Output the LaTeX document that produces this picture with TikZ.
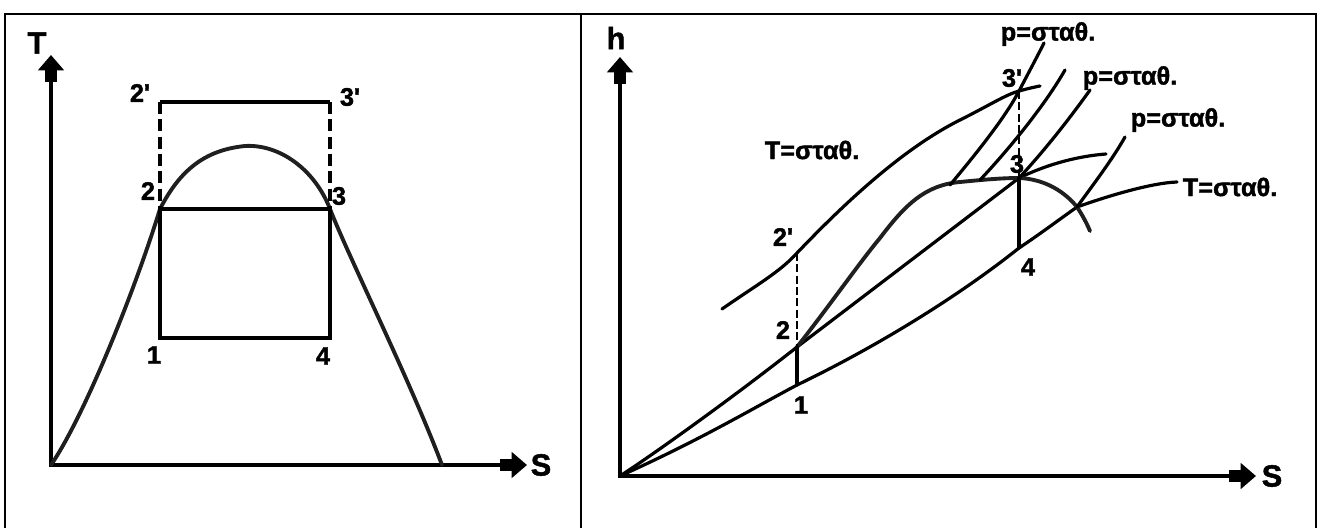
\documentclass[tikz,border=0pt]{standalone}
\usepackage{fontspec}
\setmainfont{Liberation Sans}[BoldFeatures={FakeBold=1.6}]
\usetikzlibrary{arrows.meta}
\newcommand\pr{\textquotesingle}
\tikzset{
  fatarrows/.style={{Triangle[length=11.5pt,width=19pt,sep=0pt]Rectangle[length=8.5pt,width=9.5pt,sep=0pt]}-{Rectangle[length=8.5pt,width=9.5pt,sep=0pt]Triangle[length=11.5pt,width=19pt,sep=0pt]}},
  axisline/.style={line width=3.2pt, fatarrows},
  crv/.style={line width=2.4pt, line cap=round, line join=round},
  domecrv/.style={line width=2.9pt, line cap=round, line join=round, black!88},
  boxline/.style={line width=2.4pt, line cap=square, line join=miter},
  lab/.style={font=\fontsize{19}{19}\selectfont\bfseries, inner sep=0pt},
  axlab/.style={font=\fontsize{23}{23}\selectfont\bfseries, inner sep=0pt},
  framel/.style={line width=1.9pt},
  dashL/.style={line width=2.6pt, dash pattern=on 9pt off 4pt},
  dashR/.style={line width=1pt, dash pattern=on 6pt off 2.5pt},
}
\begin{document}
\begin{tikzpicture}[x=0.75pt,y=-0.75pt]
\useasboundingbox (0,0) rectangle (1320,528);
% frame
\coordinate (fa) at (5,530); \coordinate (fb) at (5,14); \coordinate (fc) at (1316,14); \coordinate (fd) at (1316,530);
\coordinate (fm1) at (581,14); \coordinate (fm2) at (581,530);
\draw[framel] (fa) -- (fb) -- (fc) -- (fd);
\draw[framel] (fm1) -- (fm2);

% ===== left panel: T-s =====
\coordinate (O1) at (51,465);
\coordinate (Ttip) at (51,55);
\coordinate (S1tip) at (527,465);
\draw[axisline] (Ttip) -- (O1) -- (S1tip);
\node[axlab] (Tlab) at (37,43) {T};
\node[axlab] (S1lab) at (541,465) {S};

\coordinate (L2p) at (160,102); \coordinate (L3p) at (330,102);
\coordinate (L2) at (160,209);  \coordinate (L3) at (330,209);
\coordinate (L1) at (160,338);  \coordinate (L4) at (330,338);

\draw[domecrv] (O1) .. controls (85,415) and (135,290) .. (L2)
  .. controls (180,170) and (205,150) .. (245,146)
  .. controls (280,144) and (315,170) .. (L3)
  .. controls (350,260) and (410,380) .. (442,465);

\draw[boxline] (L2p) -- (L3p);
\draw[dashL] (L2p) -- (L2);
\draw[dashL] (L3p) -- (L3);
\draw[boxline] (L2) -- (L3);
\draw[boxline] (L2) -- (L1) -- (L4) -- (L3);

\node[lab] (l2p) at (140,93) {2\pr};
\node[lab] (l3p) at (350,97) {3\pr};
\node[lab] (l2) at (148,191) {2};
\node[lab] (l3) at (339,196) {3};
\node[lab] (l1) at (154,355) {1};
\node[lab] (l4) at (323,356) {4};

% ===== right panel: h-s =====
\coordinate (O2) at (620,476);
\coordinate (htip) at (620,57);
\coordinate (S2tip) at (1256,476);
\draw[axisline] (htip) -- (O2) -- (S2tip);
\node[axlab] (hlab) at (616,38) {h};
\node[axlab] (S2lab) at (1272,476) {S};

\coordinate (R1) at (797,385);
\coordinate (R2) at (797,347);
\coordinate (R2p) at (797,253);
\coordinate (R3) at (1019,178);
\coordinate (R3p) at (1019,91);
\coordinate (R4) at (1019,248);
\coordinate (Rx) at (1077,207);
\coordinate (Tend) at (1177,182);

% lower isotherm
\draw[crv] (O2) .. controls (700,440) and (750,410) .. (R1)
  .. controls (880,345) and (960,295) .. (R4)
  .. controls (1040,234) and (1060,219) .. (Rx)
  .. controls (1105,197) and (1150,183) .. (Tend);
% upper line through 2 and 3
\draw[crv] (O2) .. controls (660,450) and (740,392) .. (R2) -- (R3)
  .. controls (1050,163) and (1080,156) .. (1106,154);
% saturation dome
\draw[domecrv] (R2) .. controls (830,305) and (860,262) .. (880,238)
  .. controls (905,205) and (925,185) .. (960,182)
  .. controls (990,179) and (1005,178) .. (R3)
  .. controls (1045,179) and (1065,192) .. (Rx)
  .. controls (1083,216) and (1087,224) .. (1090,231);
% upper isotherm through 2' and 3'
\draw[crv] (722,309) .. controls (755,286) and (780,272) .. (R2p)
  .. controls (840,208) and (900,150) .. (960,120)
  .. controls (990,105) and (1005,95) .. (R3p)
  .. controls (1030,88) and (1035,87) .. (1040,86);
% isobars
\draw[crv] (950,185) .. controls (975,155) and (1005,118) .. (R3p)
  .. controls (1030,70) and (1038,55) .. (1044,43);
\draw[crv] (980,180) .. controls (1010,148) and (1045,105) .. (1065,70);
\draw[crv] (R3) .. controls (1045,150) and (1070,118) .. (1090,90);
\draw[crv] (Rx) .. controls (1095,182) and (1112,160) .. (1125,137);

\draw[dashR] (R2p) -- (R2);
\draw[dashR] (R3p) -- (R3);
\draw[crv] (R2) -- (R1);
\draw[crv] (R3) -- (R4);

\node[lab] (r2p) at (783,237) {2\pr};
\node[lab] (r2) at (783,330) {2};
\node[lab] (r1) at (801,405) {1};
\node[lab] (r3p) at (1012,78) {3\pr};
\node[lab] (r3) at (1017,164) {3};
\node[lab] (r4) at (1028,267) {4};

\node[lab] (tc1) at (812,150) {T=σταθ.};
\node[lab] (tc2) at (1230,187) {T=σταθ.};
\node[lab] (pc1) at (1048,34) {p=σταθ.};
\node[lab] (pc2) at (1130,78) {p=σταθ.};
\node[lab] (pc3) at (1178,120) {p=σταθ.};
\end{tikzpicture}
\end{document}
